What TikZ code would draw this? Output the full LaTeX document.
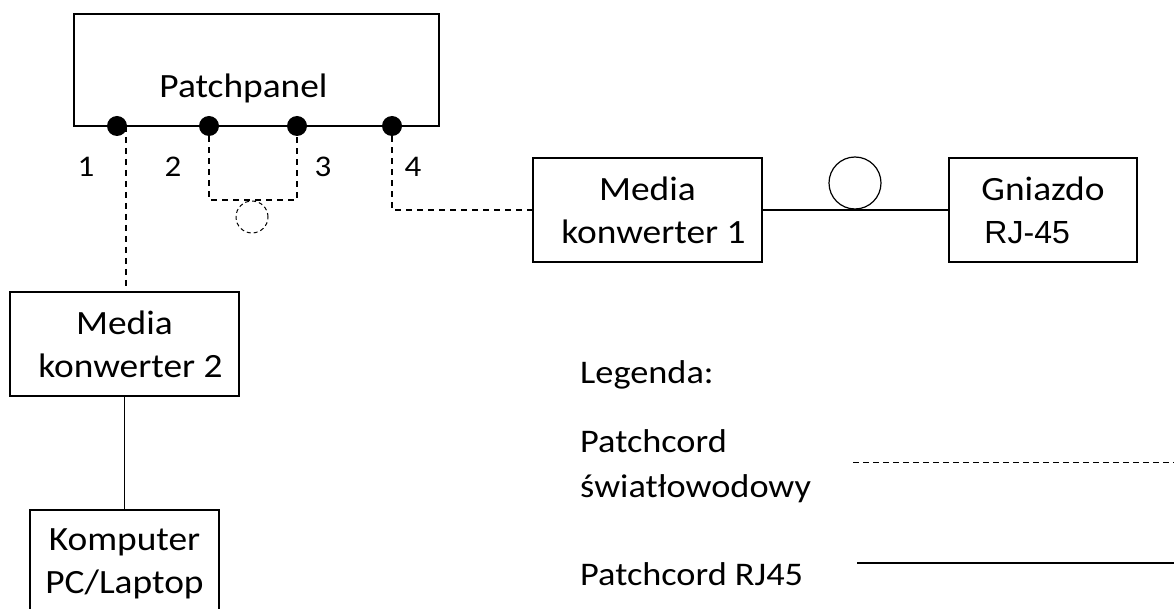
\documentclass[tikz,border=0pt]{standalone}
\usepackage{fontspec}
\setmainfont{Carlito}[FakeStretch=1.1]
\newfontfamily\arialfont{Liberation Sans}
\begin{document}
\begin{tikzpicture}[x=1pt,y=-1pt,
  box/.style={draw, line width=1.2pt, inner sep=0pt, align=center, font=\fontsize{34}{43}\selectfont},
  fiber/.style={line width=1.2pt, dash pattern=on 6pt off 5pt},
  legfiber/.style={line width=1pt, dash pattern=on 6pt off 4pt},
  rj/.style={line width=1.2pt},
  port/.style={circle, fill=black, inner sep=0pt, minimum size=20pt},
  lbl/.style={font=\fontsize{30}{36}\selectfont, inner sep=0pt},
  leg/.style={font=\fontsize{33}{44}\selectfont, inner sep=0pt, anchor=base west}]
\useasboundingbox (0,0) rectangle (1174,609);
% patch panel
\node[box, minimum width=365pt, minimum height=112pt] (pp) at (256.5,70) {};
\node[inner sep=0pt, font=\fontsize{34}{40}\selectfont] (pptext) at (243.5,88) {Patchpanel};
\node[port] (d1) at (117,126) {};
\node[port] (d2) at (209,126) {};
\node[port] (d3) at (297,126) {};
\node[port] (d4) at (392,126) {};
\node[lbl] (n1) at (86,167) {1};
\node[lbl] (n2) at (173,167) {2};
\node[lbl] (n3) at (323,167) {3};
\node[lbl] (n4) at (413,167) {4};
% devices
\node[box, minimum width=229pt, minimum height=104pt] (mk1) at (647.5,210) {Media\\\hspace*{12pt}konwerter 1};
\node[box, minimum width=188pt, minimum height=104pt, align=left] (gn) at (1043,210) {Gniazdo\\\hspace*{3pt}\arialfont\fontsize{32}{43}\selectfont RJ-45};
\node[box, minimum width=229pt, minimum height=104pt] (mk2) at (124.5,344) {Media\\\hspace*{12pt}konwerter 2};
\node[box, minimum width=189pt, minimum height=107pt] (pc) at (124.5,563.5) {Komputer\\PC/Laptop};
% loops
\node[circle, draw, line width=1.2pt, minimum size=52pt, inner sep=0pt] (loop1) at (855,183) {};
\node[circle, draw, line width=1pt, dash pattern=on 4pt off 3pt, minimum size=32pt, inner sep=0pt] (loop2) at (252,217) {};
% connectors
\coordinate (c1) at ([xshift=9pt]d1.center);
\draw[fiber] (c1) -- (c1 |- mk2.north);
\coordinate (b2) at (209,200);
\coordinate (b3) at (297,200);
\draw[fiber] (d2.south) -- (b2) -- (b3) -- (d3.south);
\draw[fiber] (d4.south) -- (d4 |- mk1.west) -- (mk1.west);
\draw[rj] (mk1.east) -- (gn.west);
\draw[rj] (mk2.south) -- (pc.north);
% legend
\node[leg] (lg) at (580,383) {Legenda:};
\node[leg] (lf1) at (580,452) {Patchcord};
\node[leg] (lf2) at (580,497) {światłowodowy};
\node[leg] (lr) at (580,585) {Patchcord RJ45};
\coordinate (fs) at (853,462);
\coordinate (fe) at (1174,462);
\coordinate (rs) at (857,563);
\coordinate (re) at (1174,563);
\draw[legfiber] (fs) -- (fe);
\draw[line width=1.4pt] (rs) -- (re);
\end{tikzpicture}
\end{document}
